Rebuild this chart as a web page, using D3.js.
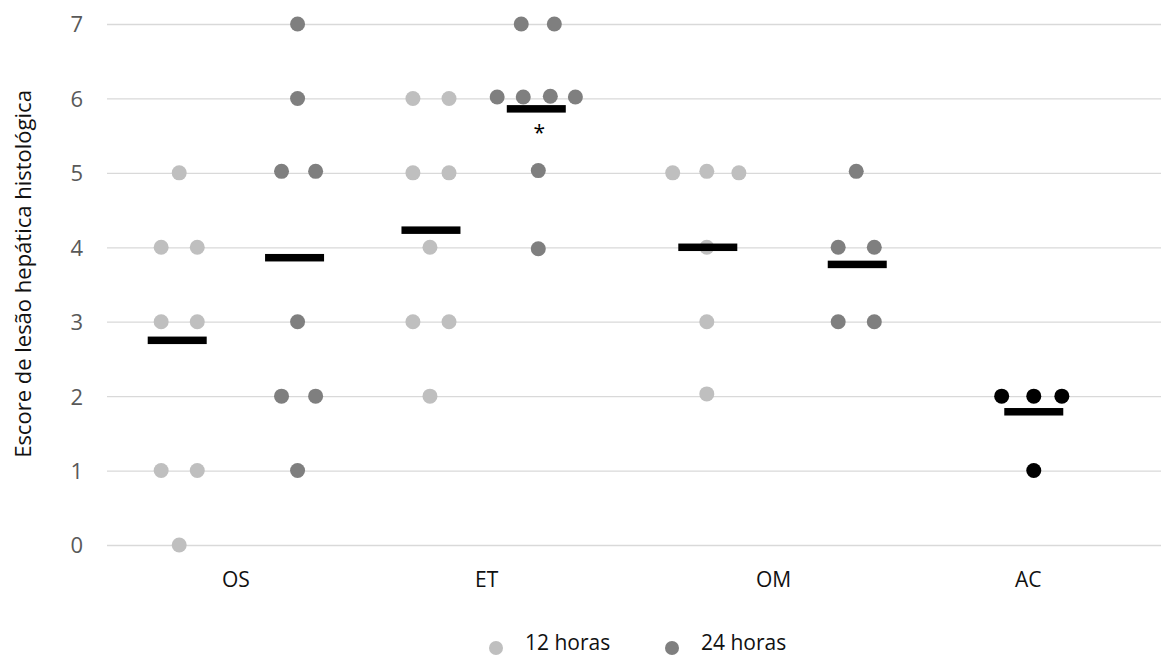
<!DOCTYPE html>
<html>
<head>
<meta charset="utf-8">
<script src="https://cdn.jsdelivr.net/npm/d3@7"></script>
<style>
  body { margin: 0; background: #fff; }
  text { font-family: "Open Sans", sans-serif; }
</style>
</head>
<body>
<script>
// categorie e posizione (in unità dell'asse x) delle etichette
const categories = ["OS", "ET", "OM", "AC"];
const categoryX = [1.28, 3.78, 6.64, 9.18];
const yTicks = [0, 1, 2, 3, 4, 5, 6, 7];

// punti 12 horas: [x, escore]
const pts12 = [
  [0.72, 5], [0.54, 4], [0.90, 4], [0.54, 3], [0.90, 3], [0.54, 1], [0.90, 1], [0.72, 0],
  [3.05, 6], [3.41, 6], [3.05, 5], [3.41, 5], [3.22, 4], [3.05, 3], [3.41, 3], [3.22, 2],
  [5.64, 5], [5.98, 5.02], [6.30, 5], [5.98, 4], [5.98, 3], [5.98, 2.03]
];
// punti 24 horas
const pts24 = [
  [1.90, 7], [1.90, 6], [1.74, 5.02], [2.08, 5.02], [1.90, 3], [1.74, 2], [2.08, 2], [1.90, 1],
  [4.13, 7], [4.46, 7], [3.89, 6.02], [4.15, 6.02], [4.42, 6.03], [4.67, 6.02], [4.30, 5.03], [4.30, 3.98],
  [7.47, 5.02], [7.29, 4], [7.65, 4], [7.29, 3], [7.65, 3]
];
// controllo (AC)
const ptsAC = [[8.92, 2], [9.24, 2], [9.52, 2], [9.24, 1]];

// medie: [x, escore]
const means = [
  [0.70, 2.75], [1.87, 3.86],
  [3.23, 4.23], [4.28, 5.86],
  [5.99, 4.00], [7.48, 3.77],
  [9.24, 1.79]
];
// asterisco di significatività
const marks = [[4.31, 5.59, "*"]];

const legendItems = ["12 horas", "24 horas"];

var width = 1161;
var height = 657;

var svg = d3.select("body").append("svg")
  .attr("width", width)
  .attr("height", height);

var x = d3.scaleLinear().domain([0, 10]).range([107, 1110]);
var y = d3.scaleLinear().domain([0, 7]).range([545, 24]);

// asse y con griglia
var yAxis = svg.append("g")
  .attr("transform", "translate(107,0)")
  .call(d3.axisLeft(y).tickValues(yTicks).tickFormat(d3.format("d"))
    .tickSize(-(width - 107)).tickPadding(24));
yAxis.select(".domain").remove();
yAxis.selectAll("line").attr("stroke", "#d9d9d9").attr("stroke-width", 1.3);
yAxis.selectAll("text").attr("fill", "#595959").style("font-size", "22px").attr("dy", "0.36em");

// asse x: solo etichette
var xAxis = svg.append("g")
  .attr("transform", "translate(0,545)")
  .call(d3.axisBottom(x).tickValues(categoryX).tickFormat((d, i) => categories[i]).tickSize(0).tickPadding(27));
xAxis.select(".domain").remove();
xAxis.selectAll("text").attr("fill", "#111").style("font-size", "21px");

// titolo asse y
svg.append("text")
  .attr("transform", "translate(31,274) rotate(-90)")
  .attr("text-anchor", "middle")
  .attr("fill", "#111")
  .style("font-size", "22px")
  .text("Escore de lesão hepática histológica");

var r = 7.5;

function dots(data, color) {
  svg.append("g").selectAll("circle")
    .data(data)
    .enter().append("circle")
    .attr("cx", d => x(d[0]))
    .attr("cy", d => y(d[1]))
    .attr("r", r)
    .attr("fill", color);
}
dots(pts12, "#bfbfbf");
dots(pts24, "#7f7f7f");
dots(ptsAC, "#000");

// barre delle medie
var barW = 59, barH = 7.5;
svg.append("g").selectAll("rect")
  .data(means)
  .enter().append("rect")
  .attr("x", d => x(d[0]) - barW / 2)
  .attr("y", d => y(d[1]) - barH / 2)
  .attr("width", barW)
  .attr("height", barH)
  .attr("fill", "#000");

svg.selectAll(".mark")
  .data(marks)
  .enter().append("text")
  .attr("class", "mark")
  .attr("x", d => x(d[0]))
  .attr("y", d => y(d[1]))
  .attr("dy", "0.55em")
  .attr("text-anchor", "middle")
  .style("font-size", "21px")
  .text(d => d[2]);

// legenda
var legend = svg.append("g").attr("transform", "translate(496,648)");
var legColors = ["#bfbfbf", "#7f7f7f"];
var item = legend.selectAll("g")
  .data(legendItems)
  .enter().append("g")
  .attr("transform", (d, i) => `translate(${i * 176},0)`);
item.append("circle").attr("r", 7).attr("fill", (d, i) => legColors[i]);
item.append("text")
  .attr("x", 29)
  .attr("y", 2)
  .attr("fill", "#111")
  .style("font-size", "21px")
  .text(d => d);
</script>
</body>
</html>
